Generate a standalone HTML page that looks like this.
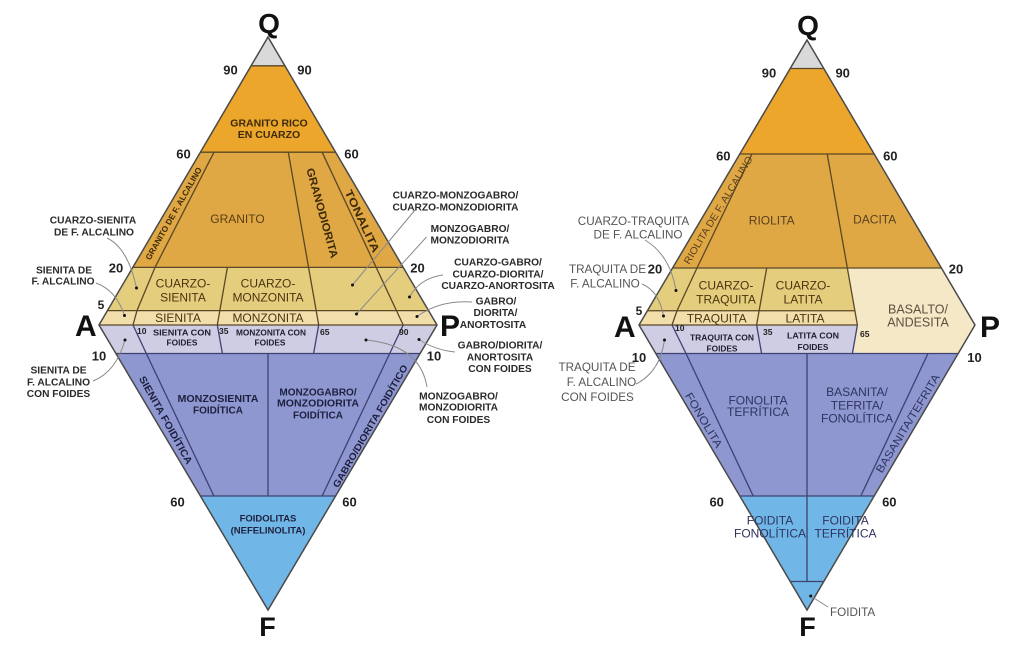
<!DOCTYPE html>
<html><head><meta charset="utf-8"><style>
html,body{margin:0;padding:0;background:#fff;}
svg{display:block;}
text{font-family:"Liberation Sans",Arial,sans-serif;}
.b{font-weight:bold;}
</style></head><body>
<svg width="1024" height="649" viewBox="0 0 1024 649" xmlns="http://www.w3.org/2000/svg">
<rect width="1024" height="649" fill="#fff"/>

<!-- LEFT DIAGRAM fills -->
<polygon points="268,37 251.1,65.8 284.9,65.8" fill="#d9d9d9"/>
<polygon points="251.1,65.8 284.9,65.8 335.6,152.2 200.4,152.2" fill="#eba62b"/>
<polygon points="200.4,152.2 335.6,152.2 403.2,267.4 132.8,267.4" fill="#dfa845"/>
<polygon points="132.8,267.4 403.2,267.4 428.6,310.6 107.4,310.6" fill="#e5cd7e"/>
<polygon points="107.4,310.6 428.6,310.6 437,325 99,325" fill="#f1deab"/>
<polygon points="99,325 437,325 420.1,353.5 115.9,353.5" fill="#cfcde4"/>
<polygon points="115.9,353.5 420.1,353.5 335.6,496 200.4,496" fill="#8e97cf"/>
<polygon points="200.4,496 335.6,496 268,610" fill="#70b6e6"/>
<path d="M251.1,65.8H284.9 M200.4,152.2H335.6 M132.8,267.4H403.2 M107.4,310.6H428.6 M99,325H437 M214,152.2L155,267.4L137,310.6L133,325 M288.3,152.2L318.7,325 M322.1,152.2L403.2,325 M227.4,267.4L217.3,325" fill="none" stroke="#5a4826" stroke-width="1.3"/>
<path d="M115.9,353.5H420.1 M200.4,496H335.6 M133,325L146.3,353.5L213.9,496 M217.3,325L222.4,353.5 M268,353.5V496 M318.7,325L313.6,353.5 M403.2,325L389.7,353.5L322.1,496" fill="none" stroke="#3d4272" stroke-width="1.3"/>
<polygon points="268,37 437,325 268,610 99,325" fill="none" stroke="#4a4a4a" stroke-width="1.5"/>

<!-- RIGHT DIAGRAM fills -->
<polygon points="807,40 790.2,68.5 823.8,68.5" fill="#d9d9d9"/>
<polygon points="790.2,68.5 823.8,68.5 874.2,154 739.8,154" fill="#eba62b"/>
<polygon points="739.8,154 874.2,154 941.4,268 672.6,268" fill="#dfa845"/>
<polygon points="672.6,268 847.3,268 855.3,310.75 647.4,310.75" fill="#e5cd7e"/>
<polygon points="647.4,310.75 855.3,310.75 857.4,325 639,325" fill="#f1deab"/>
<polygon points="847.3,268 941.4,268 975,325 958.2,353.5 852.4,353.5 857.4,325" fill="#f5e8c6"/>
<polygon points="639,325 857.4,325 852.4,353.5 655.8,353.5" fill="#cfcde4"/>
<polygon points="655.8,353.5 958.2,353.5 874.2,496 739.8,496" fill="#8e97cf"/>
<polygon points="739.8,496 874.2,496 807,610" fill="#70b6e6"/>
<path d="M790.2,68.5H823.8 M739.8,154H874.2 M672.6,268H941.4 M647.4,310.75H855.3 M639,325H857.4 M752,154L697,268L677,310.75L672,325 M827.2,154L857.4,325 M766.7,268L756.6,325" fill="none" stroke="#5a4826" stroke-width="1.3"/>
<path d="M655.8,353.5H958.2 M739.8,496H874.2 M790.2,581.5H823.8 M672,325L686,353.5L753.2,496 M756.6,325L761.6,353.5 M857.4,325L852.4,353.5 M807,353.5V581.5 M928,353.5L860.8,496" fill="none" stroke="#3d4272" stroke-width="1.3"/>
<polygon points="807,40 975,325 807,610 639,325" fill="none" stroke="#4a4a4a" stroke-width="1.5"/>

<!-- leader lines -->
<g fill="none" stroke="#8a8a8a" stroke-width="1">
<path d="M107,238 Q128,248 136.5,288"/>
<path d="M96,283 Q116,290 124.5,315.5"/>
<path d="M93,381 Q116,372 125,340"/>
<path d="M415,210 L352.5,285"/>
<path d="M426.5,237 L356.5,314"/>
<path d="M443,275 Q420,278 409.5,297"/>
<path d="M472,302 Q440,300 417,316.5"/>
<path d="M455,352 Q435,350 419,339.5"/>
<path d="M366,340 Q420,345 427,387"/>
<path d="M645,240 Q670,255 676,290.5"/>
<path d="M642,284 Q659,291 663.5,316"/>
<path d="M636,384 Q660,372 664.5,340"/>
<path d="M810.7,596 L828,607"/>
</g>
<g fill="#111">
<circle cx="136.5" cy="288" r="1.5"/><circle cx="124.5" cy="315.5" r="1.5"/><circle cx="125" cy="340" r="1.5"/>
<circle cx="352.5" cy="285" r="1.5"/><circle cx="356.5" cy="314" r="1.5"/><circle cx="366" cy="340" r="1.5"/>
<circle cx="409.5" cy="297" r="1.5"/><circle cx="417" cy="316.5" r="1.5"/><circle cx="419" cy="339.5" r="1.5"/>
<circle cx="676" cy="290.5" r="1.5"/><circle cx="663.5" cy="316" r="1.5"/><circle cx="664.5" cy="340" r="1.5"/>
<circle cx="810.7" cy="596" r="1.5"/>
</g>

<!-- vertex letters -->
<g class="b" fill="#111">
<text x="269" y="33" font-size="28" text-anchor="middle">Q</text>
<text x="267.5" y="636" font-size="27" text-anchor="middle">F</text>
<text x="75" y="336" font-size="30">A</text>
<text x="440" y="336" font-size="30">P</text>
<text x="808" y="35" font-size="28" text-anchor="middle">Q</text>
<text x="807.5" y="636" font-size="27" text-anchor="middle">F</text>
<text x="614" y="337" font-size="30">A</text>
<text x="980" y="337" font-size="30">P</text>
</g>

<!-- tick numbers -->
<g class="b" fill="#222" font-size="13" text-anchor="middle">
<text x="230.5" y="74.7">90</text><text x="304.5" y="74.7">90</text>
<text x="183.5" y="158.7">60</text><text x="351.5" y="158.7">60</text>
<text x="116" y="272.7">20</text><text x="417.5" y="272.7">20</text>
<text x="101" y="309" font-size="12">5</text>
<text x="99" y="360.7">10</text><text x="434" y="360.7">10</text>
<text x="177.5" y="506.4">60</text><text x="349.5" y="506.4">60</text>
<text x="769" y="77.4">90</text><text x="842.7" y="77.4">90</text>
<text x="723.3" y="160.7">60</text><text x="890.3" y="160.7">60</text>
<text x="655" y="273.7">20</text><text x="956" y="273.7">20</text>
<text x="639" y="315" font-size="12">5</text>
<text x="639" y="362">10</text><text x="974.5" y="362">10</text>
<text x="716.7" y="506.4">60</text><text x="889.3" y="506.4">60</text>
</g>
<g class="b" fill="#222" font-size="8.5">
<text x="137" y="334">10</text><text x="219" y="334">35</text><text x="320" y="335">65</text><text x="399" y="335">90</text>
<text x="675" y="331">10</text><text x="763" y="335">35</text><text x="860" y="337">65</text>
</g>

<!-- left inner labels -->
<g class="b" fill="#3d2a08" font-size="10.5" text-anchor="middle">
<text x="269" y="126.5">GRANITO RICO</text>
<text x="269" y="137.8">EN CUARZO</text>
</g>
<text x="237.5" y="223" font-size="12" fill="#5a3e12" text-anchor="middle">GRANITO</text>
<g class="b" fill="#3d2a08" text-anchor="middle">
<text transform="translate(173.5,213.5) rotate(-60.3)" y="3" font-size="8.3" textLength="105" lengthAdjust="spacingAndGlyphs">GRANITO DE F. ALCALINO</text>
<text transform="translate(322.5,213) rotate(74.5)" y="4" font-size="11" textLength="93" lengthAdjust="spacingAndGlyphs">GRANODIORITA</text>
<text transform="translate(362.5,221) rotate(65)" y="4" font-size="11" textLength="68" lengthAdjust="spacingAndGlyphs">TONALITA</text>
</g>
<g fill="#4a3510" font-size="12" text-anchor="middle">
<text x="183" y="287.6">CUARZO-</text><text x="183" y="301.6">SIENITA</text>
<text x="268" y="287.6">CUARZO-</text><text x="268" y="301.6">MONZONITA</text>
<text x="178" y="322">SIENITA</text><text x="268" y="322">MONZONITA</text>
</g>
<g class="b" fill="#1e1e2e" font-size="8.3" text-anchor="middle">
<text x="182" y="335.5" textLength="58" lengthAdjust="spacingAndGlyphs">SIENITA CON</text>
<text x="182" y="345.7">FOIDES</text>
<text x="271" y="335.5" textLength="70" lengthAdjust="spacingAndGlyphs">MONZONITA CON</text>
<text x="270" y="345.7">FOIDES</text>
</g>
<g class="b" fill="#1e2040" font-size="10" text-anchor="middle">
<text x="218" y="401.8" textLength="81" lengthAdjust="spacingAndGlyphs">MONZOSIENITA</text>
<text x="218" y="413.6">FOIDÍTICA</text>
<text x="318" y="395.3">MONZOGABRO/</text>
<text x="318" y="406.5" textLength="82" lengthAdjust="spacingAndGlyphs">MONZODIORITA</text>
<text x="318" y="418.6">FOIDÍTICA</text>
<text transform="translate(166,420) rotate(60.9)" y="3.6" textLength="99" lengthAdjust="spacingAndGlyphs">SIENITA FOIDÍTICA</text>
<text transform="translate(370,426) rotate(-60)" y="3.5" font-size="9.5" textLength="140" lengthAdjust="spacingAndGlyphs">GABRO/DIORITA FOIDÍTICO</text>
<text x="268" y="521.3" font-size="9.5">FOIDOLITAS</text>
<text x="268" y="533.6" font-size="9.5">(NEFELINOLITA)</text>
</g>

<!-- left annotations -->
<g class="b" fill="#2a2a2a" font-size="10.2" text-anchor="middle">
<text x="93" y="223.7">CUARZO-SIENITA</text>
<text x="94" y="235.4">DE F. ALCALINO</text>
<text x="64" y="273.7">SIENITA DE</text>
<text x="63" y="284.7">F. ALCALINO</text>
<text x="58.5" y="373.7">SIENITA DE</text>
<text x="58.5" y="385.4">F. ALCALINO</text>
<text x="58.5" y="397">CON FOIDES</text>
<text x="455.5" y="198.7">CUARZO-MONZOGABRO/</text>
<text x="455.5" y="210.4">CUARZO-MONZODIORITA</text>
<text x="470" y="232">MONZOGABRO/</text>
<text x="470" y="243.7">MONZODIORITA</text>
<text x="498" y="265.4">CUARZO-GABRO/</text>
<text x="498" y="277.7">CUARZO-DIORITA/</text>
<text x="498" y="289">CUARZO-ANORTOSITA</text>
<text x="496" y="304.7">GABRO/</text>
<text x="495.5" y="316">DIORITA/</text>
<text x="493" y="328">ANORTOSITA</text>
<text x="500" y="348.7">GABRO/DIORITA/</text>
<text x="500" y="360.4">ANORTOSITA</text>
<text x="500" y="372">CON FOIDES</text>
<text x="458.5" y="399.4">MONZOGABRO/</text>
<text x="458.5" y="410.4">MONZODIORITA</text>
<text x="458.5" y="423">CON FOIDES</text>
</g>

<!-- right inner labels -->
<g fill="#5a4020" font-size="12" text-anchor="middle">
<text x="771.7" y="224.3">RIOLITA</text>
<text x="874.7" y="223.3">DACITA</text>
<text transform="translate(718,210) rotate(-59)" y="3.6" font-size="10" textLength="124" lengthAdjust="spacingAndGlyphs">RIOLITA DE F. ALCALINO</text>
</g>
<g fill="#4a3510" font-size="12" text-anchor="middle">
<text x="726" y="289.3">CUARZO-</text><text x="726" y="303.3">TRAQUITA</text>
<text x="803" y="289.3">CUARZO-</text><text x="803" y="303.3">LATITA</text>
<text x="716.7" y="322.5">TRAQUITA</text><text x="805" y="322.5">LATITA</text>
</g>
<g class="b" fill="#1e1e2e" font-size="8.3" text-anchor="middle">
<text x="722" y="340.5" textLength="64" lengthAdjust="spacingAndGlyphs">TRAQUITA CON</text>
<text x="722" y="351.5">FOIDES</text>
<text x="813" y="338.3" textLength="52" lengthAdjust="spacingAndGlyphs">LATITA CON</text>
<text x="813" y="350">FOIDES</text>
</g>
<g fill="#5a5040" font-size="12.5" text-anchor="middle">
<text x="918" y="313.5">BASALTO/</text>
<text x="918" y="326.5">ANDESITA</text>
</g>
<g fill="#2f3460" font-size="12" text-anchor="middle">
<text x="758" y="404.3">FONOLITA</text>
<text x="758" y="416">TEFRÍTICA</text>
<text x="857" y="396">BASANITA/</text>
<text x="857" y="409.3">TEFRITA/</text>
<text x="857" y="422.6">FONOLÍTICA</text>
<text transform="translate(704,420) rotate(59.3)" y="4" font-size="11" textLength="62" lengthAdjust="spacingAndGlyphs">FONOLITA</text>
<text transform="translate(907.5,423.3) rotate(-58.9)" y="4" font-size="11" textLength="113" lengthAdjust="spacingAndGlyphs">BASANITA/TEFRITA</text>
<text x="770" y="524.3">FOIDITA</text>
<text x="770" y="537.6">FONOLÍTICA</text>
<text x="845.5" y="524.3">FOIDITA</text>
<text x="845.5" y="537.6">TEFRÍTICA</text>
</g>

<!-- right annotations -->
<g fill="#555" font-size="11.7" text-anchor="middle">
<text x="633.5" y="225.2">CUARZO-TRAQUITA</text>
<text x="638" y="238.5">DE F. ALCALINO</text>
<text x="646" y="273.2" text-anchor="end">TRAQUITA DE</text>
<text x="605" y="287.5">F. ALCALINO</text>
<text x="597" y="371.2">TRAQUITA DE</text>
<text x="601.5" y="386.2">F. ALCALINO</text>
<text x="597.5" y="401.2">CON FOIDES</text>
<text x="830" y="616" text-anchor="start">FOIDITA</text>
</g>
</svg>
</body></html>
